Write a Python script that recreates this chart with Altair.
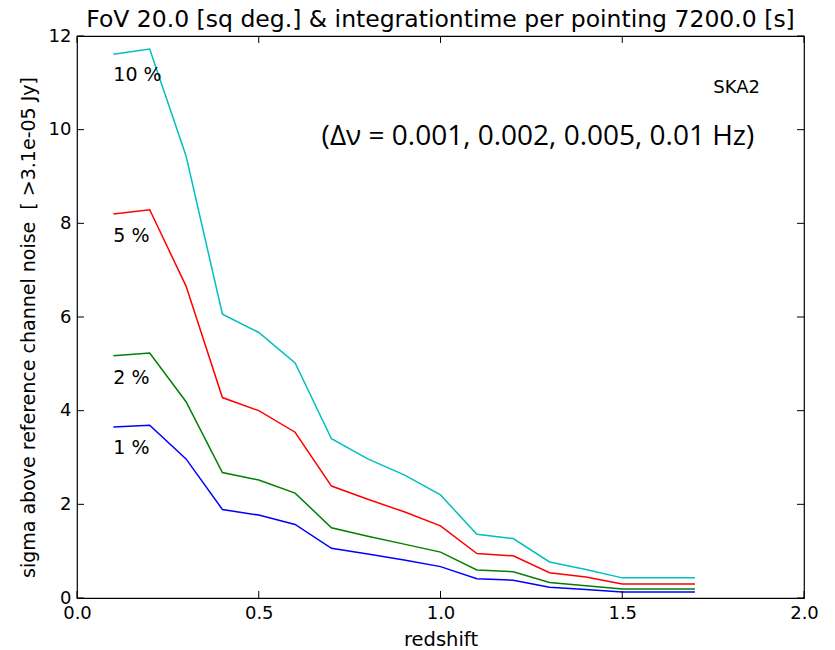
import altair as alt
import pandas as pd

z = [0.1, 0.2, 0.3, 0.4, 0.5, 0.6, 0.7, 0.8, 0.9, 1.0, 1.1, 1.2, 1.3, 1.4, 1.5, 1.6, 1.7]
s1 = [3.65, 3.69, 2.97, 1.89, 1.77, 1.57, 1.06, 0.94, 0.81, 0.67, 0.41, 0.38, 0.23, 0.18, 0.13, 0.13, 0.13]
s2 = [5.17, 5.23, 4.19, 2.68, 2.52, 2.24, 1.50, 1.32, 1.15, 0.98, 0.60, 0.56, 0.33, 0.26, 0.19, 0.19, 0.19]
s5 = [8.20, 8.29, 6.66, 4.28, 4.00, 3.54, 2.39, 2.11, 1.84, 1.54, 0.95, 0.90, 0.54, 0.45, 0.30, 0.30, 0.30]
s10 = [11.61, 11.72, 9.44, 6.06, 5.67, 5.02, 3.40, 2.97, 2.63, 2.20, 1.36, 1.27, 0.77, 0.61, 0.43, 0.43, 0.43]
series_names = ["1 %", "2 %", "5 %", "10 %"]
series_colors = ["#0000ff", "#008000", "#ff0000", "#00bfbf"]

label_x = [0.1, 0.1, 0.1, 0.1]
label_y = [3.2, 4.7, 7.73, 11.17]

x_ticks = [0.0, 0.5, 1.0, 1.5, 2.0]
y_ticks = [0, 2, 4, 6, 8, 10, 12]

title_text = "FoV 20.0 [sq deg.] & integrationtime per pointing 7200.0 [s]"
x_title = "redshift"
y_title = "sigma above reference channel noise \u00a0[ >3.1e-05 Jy]"
ska_text = "SKA2"
dnu_text = "(\u0394\u03bd = 0.001, 0.002, 0.005, 0.01 Hz)"

W, H = 727, 562
FONT = "DejaVu Sans"

rows = []
for name, vals in zip(series_names, [s1, s2, s5, s10]):
    for zi, v in zip(z, vals):
        rows.append({"z": zi, "sigma": v, "series": name})
df = pd.DataFrame(rows)

xs = alt.Scale(domain=[0, 2], nice=False, zero=False)
ys = alt.Scale(domain=[0, 12], nice=False, zero=False)

lines = alt.Chart(df).mark_line(strokeWidth=1.5, clip=True).encode(
    x=alt.X("z:Q", scale=xs,
            axis=alt.Axis(values=x_ticks, format=".1f", title=x_title, ticks=False,
                          domain=False, grid=False, labelFontSize=18, labelFont=FONT,
                          labelColor="#000", labelPadding=6, titleFont=FONT,
                          titleFontSize=19.5, titleFontWeight="normal", titleColor="#000",
                          titlePadding=8, labelFlush=False)),
    y=alt.Y("sigma:Q", scale=ys,
            axis=alt.Axis(values=y_ticks, format="d", title=y_title, ticks=False,
                          domain=False, grid=False, labelFontSize=18, labelFont=FONT,
                          labelColor="#000", labelPadding=6, titleFont=FONT,
                          titleFontSize=19, titleFontWeight="normal", titleColor="#000",
                          titlePadding=10, titleY=H / 2 + 10, labelFlush=False)),
    color=alt.Color("series:N", scale=alt.Scale(domain=series_names, range=series_colors),
                    legend=None),
    detail="series:N",
)

lab_df = pd.DataFrame({"x": label_x, "y": label_y, "t": series_names})
labels = alt.Chart(lab_df).mark_text(align="left", baseline="middle", fontSize=19,
                                     font=FONT, color="#000").encode(
    x=alt.X("x:Q", scale=xs), y=alt.Y("y:Q", scale=ys), text="t:N")

ann_df = pd.DataFrame({"x": [1.879], "y": [10.89], "t": [ska_text]})
ska = alt.Chart(ann_df).mark_text(align="right", baseline="middle", fontSize=18,
                                   font=FONT, color="#000").encode(
    x=alt.X("x:Q", scale=xs), y=alt.Y("y:Q", scale=ys), text="t:N")

dnu_df = pd.DataFrame({"x": [1.268], "y": [9.84], "t": [dnu_text]})
dnu = alt.Chart(dnu_df).mark_text(align="center", baseline="middle", fontSize=28,
                                   font="Open Sans", color="#000").encode(
    x=alt.X("x:Q", scale=xs), y=alt.Y("y:Q", scale=ys), text="t:N")

yt = pd.DataFrame({"v": y_ticks})
xt = pd.DataFrame({"v": x_ticks})
TL = 7
lt = alt.Chart(yt).mark_rule(color="#000", strokeWidth=1).encode(
    y=alt.Y("v:Q", scale=ys), x=alt.value(0), x2=alt.value(TL))
rt = alt.Chart(yt).mark_rule(color="#000", strokeWidth=1).encode(
    y=alt.Y("v:Q", scale=ys), x=alt.value(W - TL), x2=alt.value(W))
bt = alt.Chart(xt).mark_rule(color="#000", strokeWidth=1).encode(
    x=alt.X("v:Q", scale=xs), y=alt.value(H - TL), y2=alt.value(H))
tt = alt.Chart(xt).mark_rule(color="#000", strokeWidth=1).encode(
    x=alt.X("v:Q", scale=xs), y=alt.value(0), y2=alt.value(TL))

chart = alt.layer(lines, labels, ska, dnu, lt, rt, bt, tt).properties(
    width=W, height=H,
    title=alt.Title(title_text, font=FONT, fontSize=23.5, fontWeight="normal",
                    color="#000", anchor="middle", offset=8, dy=12),
    autosize=alt.AutoSizeParams(type="none"),
    padding={"left": 77, "top": 36, "right": 31, "bottom": 52},
).configure(background="white").configure_view(stroke="#000", strokeWidth=1.2)

chart.save("out.html", embed_options={"renderer": "svg", "actions": False})
